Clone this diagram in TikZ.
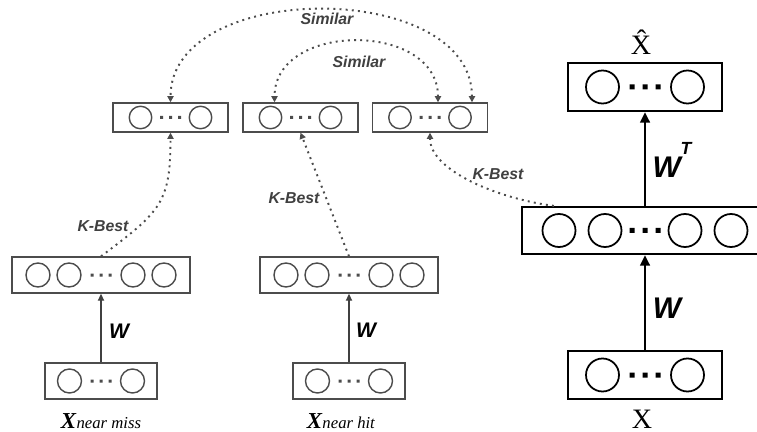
\documentclass[tikz,border=0pt]{standalone}
\usepackage{fontspec}
\setmainfont{Liberation Serif}
\newfontfamily\arialfont{Liberation Sans}
\usetikzlibrary{arrows.meta}

\tikzset{
  thinline/.style={draw=black!70, line width=0.8pt},
  boldline/.style={draw=black, line width=1.3pt},
  smallbox/.style={thinline, minimum width=2.3cm, minimum height=0.58cm, inner sep=0pt},
  hidbox/.style={thinline, minimum width=3.56cm, minimum height=0.72cm, inner sep=0pt},
  inbox/.style={thinline, minimum width=2.24cm, minimum height=0.72cm, inner sep=0pt},
  rightbox/.style={boldline, minimum width=3.08cm, minimum height=0.96cm, inner sep=0pt},
  lbl/.style={font=\arialfont\bfseries\itshape\fontsize{9}{10}\selectfont, text=black!75, inner sep=0pt},
  wlbl/.style={font=\arialfont\bfseries\itshape\fontsize{12}{12}\selectfont, inner sep=0pt},
  bigw/.style={font=\arialfont\bfseries\itshape\fontsize{17}{17}\selectfont, inner sep=0pt},
  dotlink/.style={draw=black!70, line width=1.1pt, dash pattern=on 1.1pt off 2.4pt,
    >={Triangle[length=3.5pt,width=3.5pt]}},
  thinarrow/.style={draw=black!75, line width=0.7pt, -{Triangle[length=4pt,width=3.5pt]}},
  boldarrow/.style={draw=black, line width=1.4pt, -{Triangle[length=6pt,width=5.5pt]}}
}

\begin{document}
\begin{tikzpicture}[x=0.02cm,y=-0.02cm]
        \clip (0,0) rectangle (757,432);

        % top row
        \node[smallbox] (simA) at (170.5,117.5) {};
        \node[smallbox] (simB) at (300.5,117.5) {};
        \node[smallbox] (simC) at (430,117.5) {};
        \draw[thinline] (140.5,117.5) circle (0.225cm) (200.5,117.5) circle (0.225cm);
        \draw[thinline] (270.5,117.5) circle (0.225cm) (330.5,117.5) circle (0.225cm);
        \draw[thinline] (400,117.5) circle (0.225cm) (460,117.5) circle (0.225cm);
        \fill[black!70] (160,116) rectangle +(3,3) (169,116) rectangle +(3,3) (178,116) rectangle +(3,3);
        \fill[black!70] (290,116) rectangle +(3,3) (299,116) rectangle +(3,3) (308,116) rectangle +(3,3);
        \fill[black!70] (419.5,116) rectangle +(3,3) (428.5,116) rectangle +(3,3) (437.5,116) rectangle +(3,3);

        % near miss
        \node[hidbox] (lh) at (101,275) {};
        \node[inbox] (li) at (101,381) {};
        \draw[thinline] (38,275) circle (0.24cm) (69,275) circle (0.24cm) (133,275) circle (0.24cm) (164,275) circle (0.24cm);
        \draw[thinline] (69.5,381) circle (0.24cm) (132.5,381) circle (0.24cm);
        \fill[black!70] (90.5,273.5) rectangle +(3,3) (99.5,273.5) rectangle +(3,3) (108.5,273.5) rectangle +(3,3);
        \fill[black!70] (90.5,379.5) rectangle +(3,3) (99.5,379.5) rectangle +(3,3) (108.5,379.5) rectangle +(3,3);
        \draw[thinarrow] (li) -- (lh);
        \node[wlbl] (wmiss) at (119,331) {W};
        \node[anchor=base, inner sep=0pt] (xmiss) at (101,428) {\fontsize{13}{13}\selectfont\textbf{\textit{X}}\textit{\fontsize{9.5}{10}\selectfont near miss}};

        % near hit
        \node[hidbox] (mh) at (349,275) {};
        \node[inbox] (mi) at (349,381) {};
        \draw[thinline] (286,275) circle (0.24cm) (317,275) circle (0.24cm) (381,275) circle (0.24cm) (412,275) circle (0.24cm);
        \draw[thinline] (317.5,381) circle (0.24cm) (380.5,381) circle (0.24cm);
        \fill[black!70] (338.5,273.5) rectangle +(3,3) (347.5,273.5) rectangle +(3,3) (356.5,273.5) rectangle +(3,3);
        \fill[black!70] (338.5,379.5) rectangle +(3,3) (347.5,379.5) rectangle +(3,3) (356.5,379.5) rectangle +(3,3);
        \draw[thinarrow] (mi) -- (mh);
        \node[wlbl] (whit) at (366,330) {W};
        \node[anchor=base, inner sep=0pt] (xhit) at (341,428) {\fontsize{13}{13}\selectfont\textbf{\textit{X}}\textit{\fontsize{9.5}{10}\selectfont near hit}};

        % autoencoder
        \node[rightbox] (xh) at (645,87) {};
        \node[rightbox, minimum width=4.92cm, minimum height=0.94cm] (bh) at (645,230.5) {};
        \node[rightbox] (xi) at (645,375) {};
        \draw[boldline, line width=1pt] (602.5,87) circle (0.33cm) (687.5,87) circle (0.33cm);
        \draw[boldline, line width=1pt] (559,230.5) circle (0.33cm) (605,230.5) circle (0.33cm) (685,230.5) circle (0.33cm) (731,230.5) circle (0.33cm);
        \draw[boldline, line width=1pt] (602.5,375) circle (0.33cm) (687.5,375) circle (0.33cm);
        \fill (629.5,84.5) rectangle +(5,5) (642.5,84.5) rectangle +(5,5) (655.5,84.5) rectangle +(5,5);
        \fill (629.5,228) rectangle +(5,5) (642.5,228) rectangle +(5,5) (655.5,228) rectangle +(5,5);
        \fill (629.5,372.5) rectangle +(5,5) (642.5,372.5) rectangle +(5,5) (655.5,372.5) rectangle +(5,5);
        \draw[boldarrow] (xi) -- (bh);
        \draw[boldarrow] (bh) -- (xh);
        \node[bigw] (wenc) at (667,308) {W};
        \node[bigw] (wdec) at (672,160) {W\raisebox{1.4ex}{\fontsize{10}{10}\selectfont T}};
        \node[anchor=base, inner sep=0pt, font=\fontsize{16}{16}\selectfont] (xhat) at (641,55) {\^{X}};
        \node[anchor=base, inner sep=0pt, font=\fontsize{16}{16}\selectfont] (xin) at (642,428) {X};

        % dotted links
        \draw[dotlink,->] (lh.north) .. controls +(60,-45) and +(0,70) .. (simA.south);
        \draw[dotlink,->] (mh.north) -- (simB.south);
        \draw[dotlink,->] ([xshift=0.66cm]bh.north west) .. controls +(-55,-7) and +(0,38) .. (simC.south);
        \draw[dotlink,<->] ([xshift=0.84cm]simC.north) .. controls +(0,-123) and +(0,-123) .. (simA.north);
        \draw[dotlink,<->] ([xshift=0.16cm]simC.north) .. controls +(0,-81) and +(0,-81) .. ([xshift=-0.52cm]simB.north);
        \node[lbl] (kbmiss) at (103,226) {K-Best};
        \node[lbl] (kbhit) at (294,198) {K-Best};
        \node[lbl] (kbx) at (498,174) {K-Best};
        \node[lbl] (simout) at (327,19) {Similar};
        \node[lbl] (simin) at (359,62) {Similar};
\end{tikzpicture}
\end{document}
